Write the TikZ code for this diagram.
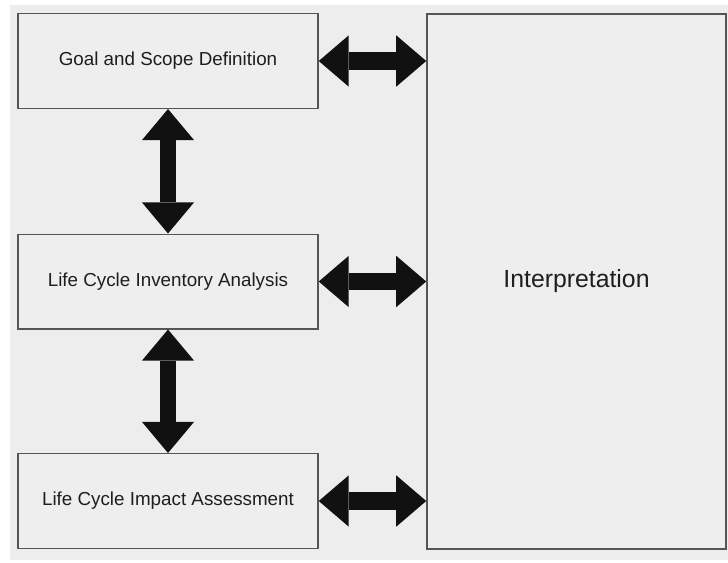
\documentclass[tikz,border=0pt]{standalone}
\usepackage{fontspec}
\setmainfont{Liberation Sans}
\usetikzlibrary{arrows.meta}
\definecolor{bgc}{HTML}{EDEDED}
\definecolor{boxc}{HTML}{EEEEEE}
\definecolor{edgec}{HTML}{555555}
\definecolor{txtc}{HTML}{1E1E1E}
\definecolor{arrc}{HTML}{111111}
\tikzset{
  stagebox/.style={draw=edgec, fill=boxc, line width=1.1pt, text=txtc,
    minimum width=225pt, minimum height=70.9pt, inner sep=0pt,
    font=\fontsize{14.1pt}{17pt}\selectfont},
  interbox/.style={draw=edgec, fill=boxc, line width=1.1pt, text=txtc,
    minimum width=224.3pt, minimum height=401.3pt, inner sep=0pt,
    font=\fontsize{18.6pt}{22pt}\selectfont},
  harrow/.style={draw=arrc, line width=12.9pt,
    {Triangle[length=22.5pt,width=38.5pt,line width=0pt,fill=arrc]}-{Triangle[length=22.5pt,width=38.5pt,line width=0pt,fill=arrc]}},
  varrow/.style={draw=arrc, line width=12pt,
    {Triangle[length=23.3pt,width=39pt,line width=0pt,fill=arrc]}-{Triangle[length=23.3pt,width=39pt,line width=0pt,fill=arrc]}}
}
\begin{document}
\begin{tikzpicture}[x=0.75pt,y=-0.75pt]
\useasboundingbox (0,0) rectangle (728,562);
\fill[bgc] (10,5) rectangle (728,560);
\node[stagebox] (goal) at (168,61) {Goal and Scope Definition};
\node[stagebox] (lci) at (168,281.5) {Life Cycle Inventory Analysis};
\node[stagebox] (lcia) at (168,501) {Life Cycle Impact Assessment};
\node[interbox] (interp) at (576.5,281.5) {Interpretation};
\draw[harrow] (goal.east) -- (goal.east -| interp.west);
\draw[harrow] (lci.east) -- (lci.east -| interp.west);
\draw[harrow] (lcia.east) -- (lcia.east -| interp.west);
\draw[varrow] (goal.south) -- (lci.north);
\draw[varrow] (lci.south) -- (lcia.north);
\end{tikzpicture}
\end{document}
